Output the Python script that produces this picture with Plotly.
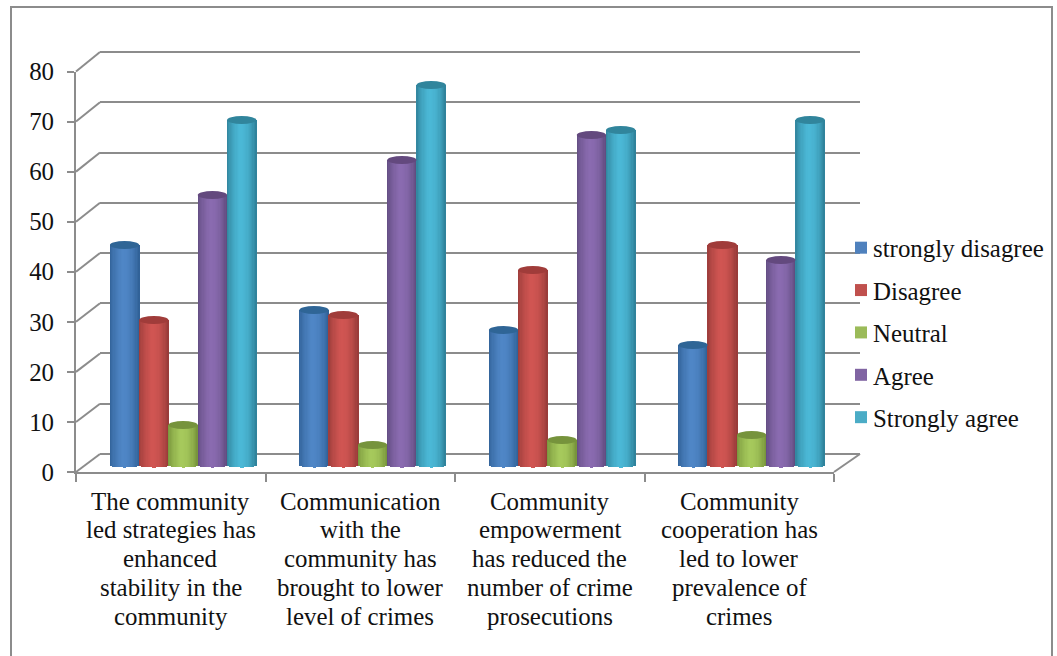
import math
import plotly.graph_objects as go

categories = [
    ["The community", "led strategies has", "enhanced", "stability in the", "community"],
    ["Communication", "with the", "community has", "brought to lower", "level of crimes"],
    ["Community", "empowerment", "has reduced the", "number of crime", "prosecutions"],
    ["Community", "cooperation has", "led to lower", "prevalence of", "crimes"],
]
series_names = ["strongly disagree", "Disagree", "Neutral", "Agree", "Strongly agree"]
strongly_disagree = [44, 31, 27, 24]
disagree = [29, 30, 39, 44]
neutral = [8, 4, 5, 6]
agree = [54, 61, 66, 41]
strongly_agree = [69, 76, 67, 69]
series_values = [strongly_disagree, disagree, neutral, agree, strongly_agree]
y_ticks = [0, 10, 20, 30, 40, 50, 60, 70, 80]

legend_colors = ["#4F81BD", "#C0504D", "#9BBB59", "#8064A2", "#4BACC6"]
light_colors = ["#4F86C6", "#D05552", "#A6C95C", "#8A6BB0", "#4BB8D6"]
edge_colors = ["#2F5F94", "#963A38", "#749139", "#5E4A7C", "#2E7F97"]
cap_colors = ["#2F6596", "#A03C3A", "#76933C", "#63497E", "#31859C"]

W, H = 1057, 656
FONT = "Liberation Serif"
FS = 24.9
GRID = "#8C8C8C"


def px_x(p):
    return p / W


def px_y(p):
    return 1 - p / H


def mix(c1, c2, t):
    a = [int(c1[i:i + 2], 16) for i in (1, 3, 5)]
    b = [int(c2[i:i + 2], 16) for i in (1, 3, 5)]
    return "rgb(%d,%d,%d)" % tuple(round(a[k] + (b[k] - a[k]) * t) for k in range(3))


fig = go.Figure()
# back wall subplot first, so that its gridlines stay behind the bars
fig.add_trace(go.Scatter(x=[None], y=[None], xaxis="x", yaxis="y", showlegend=False, hoverinfo="skip"))
fig.add_trace(go.Scatter(x=[None], y=[None], xaxis="x2", yaxis="y2", showlegend=False, hoverinfo="skip"))

STRIPS = 24
BAR_W = 0.1546
GROUP_LEFT = 0.117
TOP_B = 0.8
BOTTOM_B = 0.5
shapes = []

for s, (name, values) in enumerate(zip(series_names, series_values)):
    for k in range(STRIPS):
        u = (k + 0.5) / STRIPS
        c = 2 * u - 1
        # cylinder shading: highlight left of centre, dark on the right edge
        if u < 0.42:
            t = (u / 0.42) ** 0.6
        else:
            t = 1 - ((u - 0.42) / 0.58) ** 2.2
        bases = [-BOTTOM_B * math.sqrt(max(0, 1 - c * c))] * len(values)
        fig.add_trace(go.Bar(
            x=list(range(len(values))),
            y=[v - b for v, b in zip(values, bases)],
            base=bases,
            width=BAR_W / STRIPS * 1.2,
            offset=GROUP_LEFT + s * BAR_W + k * BAR_W / STRIPS,
            marker=dict(color=mix(edge_colors[s], light_colors[s], t), line=dict(width=0)),
            xaxis="x3", yaxis="y3", showlegend=False, hoverinfo="skip",
        ))
    for i, v in enumerate(values):
        x0 = i + GROUP_LEFT + s * BAR_W
        shapes.append(dict(type="circle", xref="x3", yref="y3", x0=x0, x1=x0 + BAR_W,
                           y0=v - TOP_B, y1=v + TOP_B, fillcolor=cap_colors[s],
                           line=dict(width=0), layer="above"))
    fig.add_trace(go.Bar(
        x=[None], y=[None], name=name, legendgroup=name,
        marker=dict(color=legend_colors[s], line=dict(width=0)),
        xaxis="x3", yaxis="y3", showlegend=True,
    ))

# chart frame
shapes.append(dict(type="rect", xref="paper", yref="paper", x0=px_x(11), x1=px_x(1052),
                   y0=px_y(7), y1=px_y(680), line=dict(color="#8C8C8C", width=2), layer="below"))
# side wall and floor diagonals
for t in y_ticks:
    shapes.append(dict(type="line", xref="paper", yref="paper",
                       x0=px_x(76), y0=px_y(472 - 5.006 * t), x1=px_x(100), y1=px_y(454 - 5.025 * t),
                       line=dict(color=GRID, width=2), layer="below"))
shapes.append(dict(type="line", xref="paper", yref="paper",
                   x0=px_x(834), y0=px_y(472), x1=px_x(860), y1=px_y(454),
                   line=dict(color=GRID, width=2), layer="below"))

annotations = []
for i, lines in enumerate(categories):
    for j, line in enumerate(lines):
        annotations.append(dict(text=line, xref="x2", yref="paper", x=i + 0.5, y=px_y(501 + 28.8 * j),
                                xanchor="center", yanchor="middle", showarrow=False,
                                font=dict(family=FONT, size=FS, color="#111111")))

fig.update_layout(
    width=W, height=H, autosize=False,
    margin=dict(l=0, r=0, t=0, b=0, autoexpand=False),
    paper_bgcolor="white", plot_bgcolor="rgba(0,0,0,0)",
    barmode="overlay", bargap=0,
    font=dict(family=FONT, size=FS, color="#111111"),
    shapes=shapes, annotations=annotations,
    legend=dict(x=px_x(833), xanchor="left", y=px_y(225), yanchor="top",
                bgcolor="rgba(0,0,0,0)", tracegroupgap=7, traceorder="grouped",
                font=dict(family=FONT, size=FS, color="#111111")),
    # back wall
    xaxis=dict(domain=[px_x(100), px_x(860)], range=[0, 4], visible=False, anchor="y"),
    yaxis=dict(domain=[px_y(459.025), px_y(46.975)], range=[-1, 81], tickvals=y_ticks, showgrid=True,
               gridcolor=GRID, gridwidth=2, showticklabels=False, ticks="", zeroline=False,
               showline=False, anchor="x"),
    # front axes with the labels
    xaxis2=dict(domain=[px_x(76), px_x(834)], range=[0, 4], tickvals=[0, 1, 2, 3, 4], ticks="outside",
                ticklen=8, tickwidth=2, tickcolor=GRID, showticklabels=False, showgrid=False,
                zeroline=False, showline=True, linecolor=GRID, linewidth=2, anchor="y2"),
    yaxis2=dict(domain=[px_y(472), px_y(71.5)], range=[0, 80], tickvals=y_ticks, ticks="outside",
                ticklen=7, tickwidth=2, tickcolor=GRID, showgrid=False, zeroline=False,
                showline=True, linecolor=GRID, linewidth=2, anchor="x2", ticklabelstandoff=8,
                tickfont=dict(family=FONT, size=FS, color="#111111")),
    # bars, set half way into the depth
    xaxis3=dict(domain=[px_x(87.7), px_x(845.7)], range=[0, 4], visible=False, anchor="y3"),
    yaxis3=dict(domain=[px_y(475), px_y(65)], range=[-2, 80], visible=False, anchor="x3"),
)

post = """
document.body.style.margin='0';
setTimeout(function(){
  document.querySelectorAll('.legend .legendsymbols').forEach(function(g){
    g.setAttribute('transform','translate(8,0)');
  });
}, 30);
"""
fig.write_html("out.html", config=dict(displayModeBar=False), post_script=post)
